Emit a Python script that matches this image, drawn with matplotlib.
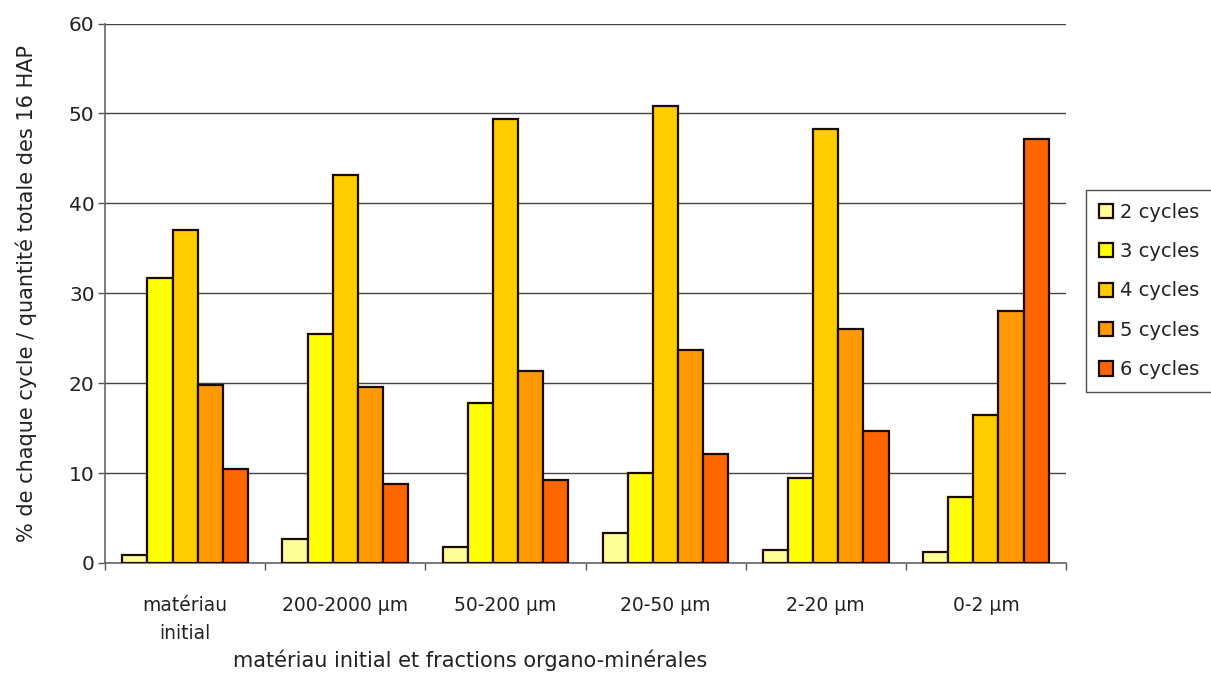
import matplotlib
matplotlib.use("Agg")
import matplotlib.pyplot as plt
import numpy as np

plt.rcParams['font.family'] = ['DejaVu Sans']

categories = ["matériau\ninitial", "200-2000 µm", "50-200 µm", "20-50 µm", "2-20 µm", "0-2 µm"]
series_names = ["2 cycles", "3 cycles", "4 cycles", "5 cycles", "6 cycles"]
cycles_2 = [0.9, 2.7, 1.8, 3.3, 1.5, 1.2]
cycles_3 = [31.7, 25.5, 17.8, 10.0, 9.4, 7.3]
cycles_4 = [37.0, 43.2, 49.4, 50.8, 48.3, 16.5]
cycles_5 = [19.8, 19.6, 21.3, 23.7, 26.0, 28.0]
cycles_6 = [10.4, 8.8, 9.2, 12.1, 14.7, 47.1]
colors = ["#FFFF99", "#FFFF00", "#FFCC00", "#FF9900", "#FF6600"]

series = [cycles_2, cycles_3, cycles_4, cycles_5, cycles_6]

fig = plt.figure(figsize=(12.11, 6.86), dpi=100)
ax = fig.add_axes([105/1211, 1-563/686, (1066-105)/1211, (563-23.5)/686])

n = len(categories)
x = np.arange(n)
bw = 0.157
for i, (vals, name, c) in enumerate(zip(series, series_names, colors)):
    ax.bar(x + (i - 2) * bw, vals, bw, color=c, edgecolor="#1a0a00", linewidth=1.6,
           label=name, zorder=3)

ax.set_xlim(-0.5, n - 0.5)
ax.set_ylim(0, 60)
ax.set_yticks(np.arange(0, 61, 10))
ax.yaxis.grid(True, color="#444444", linewidth=1.0, zorder=0)
ax.tick_params(axis='y', direction='out', length=5, width=1, color="#555555",
               labelsize=14.5, pad=2.5, labelcolor="#222222")

ax.set_xticks(np.arange(-0.5, n, 1.0))
ax.set_xticklabels([])
ax.set_xticks(x, minor=True)
ax.set_xticklabels(categories, minor=True, fontsize=13.5, linespacing=1.6, color="#222222")
ax.tick_params(axis='x', which='major', direction='out', length=5, width=1, color="#555555")
ax.tick_params(axis='x', which='minor', length=0, pad=24)

for s in ['top', 'right']:
    ax.spines[s].set_visible(False)
for s in ['left', 'bottom']:
    ax.spines[s].set_color("#666666")
    ax.spines[s].set_linewidth(1.2)

ax.set_ylabel("% de chaque cycle / quantité totale des 16 HAP", fontsize=15,
              labelpad=23, color="#222222")
fig.text(470/1211, 1-660/686, "matériau initial et fractions organo-minérales",
         ha='center', va='center', fontsize=15, color="#222222")

leg = fig.legend(loc='center left', bbox_to_anchor=(1086/1211, 1-291/686),
                 fontsize=14, frameon=True, fancybox=False, edgecolor="#222222",
                 handlelength=0.75, handleheight=0.75, handletextpad=0.35,
                 labelspacing=1.05, borderpad=0.65, borderaxespad=0)
leg.get_frame().set_linewidth(1.0)
for t in leg.get_texts():
    t.set_color("#222222")

fig.savefig("out.png", dpi=100)
